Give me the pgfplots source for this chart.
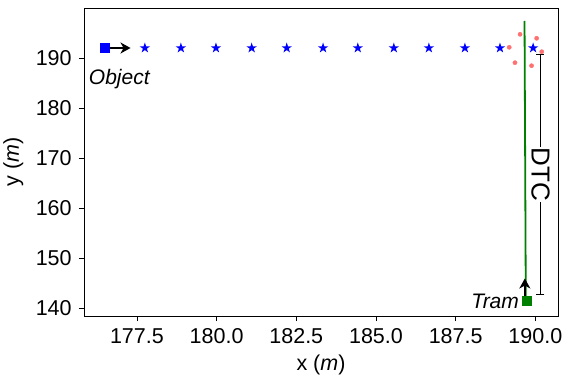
\documentclass[border=0pt]{standalone}
\usepackage{fontspec}
\setmainfont{Liberation Sans}
\usepackage{pgfplots}
\pgfplotsset{compat=1.18}
\usetikzlibrary{arrows.meta}
\definecolor{mplgreen}{HTML}{008000}
\definecolor{salmonred}{HTML}{FF7070}
\pgfdeclareplotmark{fstar}{%
  \pgfpathmoveto{\pgfpoint{0pt}{\pgfplotmarksize}}%
  \pgfpathlineto{\pgfpoint{-0.2245\pgfplotmarksize}{0.309\pgfplotmarksize}}%
  \pgfpathlineto{\pgfpoint{-0.951\pgfplotmarksize}{0.309\pgfplotmarksize}}%
  \pgfpathlineto{\pgfpoint{-0.363\pgfplotmarksize}{-0.118\pgfplotmarksize}}%
  \pgfpathlineto{\pgfpoint{-0.588\pgfplotmarksize}{-0.809\pgfplotmarksize}}%
  \pgfpathlineto{\pgfpoint{0pt}{-0.382\pgfplotmarksize}}%
  \pgfpathlineto{\pgfpoint{0.588\pgfplotmarksize}{-0.809\pgfplotmarksize}}%
  \pgfpathlineto{\pgfpoint{0.363\pgfplotmarksize}{-0.118\pgfplotmarksize}}%
  \pgfpathlineto{\pgfpoint{0.951\pgfplotmarksize}{0.309\pgfplotmarksize}}%
  \pgfpathlineto{\pgfpoint{0.2245\pgfplotmarksize}{0.309\pgfplotmarksize}}%
  \pgfpathclose
  \pgfusepathqfill
}
\begin{document}
\fontsize{21.5}{25}\selectfont
\begin{tikzpicture}
\useasboundingbox (-84pt,-59pt) rectangle (481pt,316pt);
\begin{axis}[
  at={(0,0)}, anchor=south west,
  scale only axis, width=474pt, height=308pt,
  xmin=175.84, xmax=190.71, ymin=138.4, ymax=200,
  xtick={177.5,180,182.5,185,187.5,190},
  xticklabels={177.5,180.0,182.5,185.0,187.5,190.0},
  ytick={140,150,160,170,180,190},
  yticklabels={140,150,160,170,180,190},
  tick align=outside, tick pos=left,
  major tick length=5pt,
  tick style={black, line width=0.8pt},
  axis line style={line width=0.8pt},
  tick label style={font=\fontsize{21.5}{25}\selectfont},
  xlabel={x (\textit{m})}, ylabel={y (\textit{m})},
  label style={font=\fontsize{21.5}{25}\selectfont},
  xlabel style={yshift=3pt},
  ylabel style={yshift=-2pt},
  clip=false,
]
% green trajectory
\addplot[mplgreen, line width=1.8pt] coordinates {(189.66,197.4) (189.70,141.5)};
% blue stars
\addplot[only marks, mark=fstar, mark size=5.5pt, color=blue] coordinates {
(177.75,192) (178.88,192) (179.98,192) (181.10,192) (182.20,192) (183.34,192)
(184.43,192) (185.56,192) (186.66,192) (187.79,192) (188.89,192) (189.93,192)};
% red points
\addplot[only marks, mark=*, mark size=2.1pt, color=salmonred] coordinates {
(189.52,194.74) (189.18,192.14) (190.04,193.94) (190.20,191.26) (189.36,189.06) (189.88,188.46)};
% object square
\addplot[only marks, mark=square*, mark size=4.5pt, color=blue] coordinates {(176.50,192)};
% tram square
\addplot[only marks, mark=square*, mark size=4.5pt, color=mplgreen] coordinates {(189.72,141.4)};
% arrows
\draw[black, line width=1.8pt, -{Stealth[length=10pt,width=11pt,inset=3pt]}] (axis cs:176.55,192) -- (axis cs:177.30,192);
\draw[black, line width=1.8pt, -{Stealth[length=10pt,width=11pt,inset=3pt]}] (axis cs:189.67,141.9) -- (axis cs:189.67,145.9);
% DTC
\draw[black, line width=0.9pt, {Bar[width=8pt]}-{Bar[width=8pt]}] (axis cs:190.16,190.7) -- (axis cs:190.16,142.7);
\node[rotate=-90, fill=white, inner sep=1pt, font=\fontsize{26}{30}\selectfont] at (axis cs:190.16,166.7) {DTC};
% labels
\node[anchor=west, inner sep=0pt, font=\fontsize{21}{25}\selectfont\itshape] at (axis cs:175.99,185.8) {Object};
\node[anchor=east, inner sep=0pt, font=\fontsize{21}{25}\selectfont\itshape] at (axis cs:189.49,141.4) {Tram};
\end{axis}
\end{tikzpicture}
\end{document}
